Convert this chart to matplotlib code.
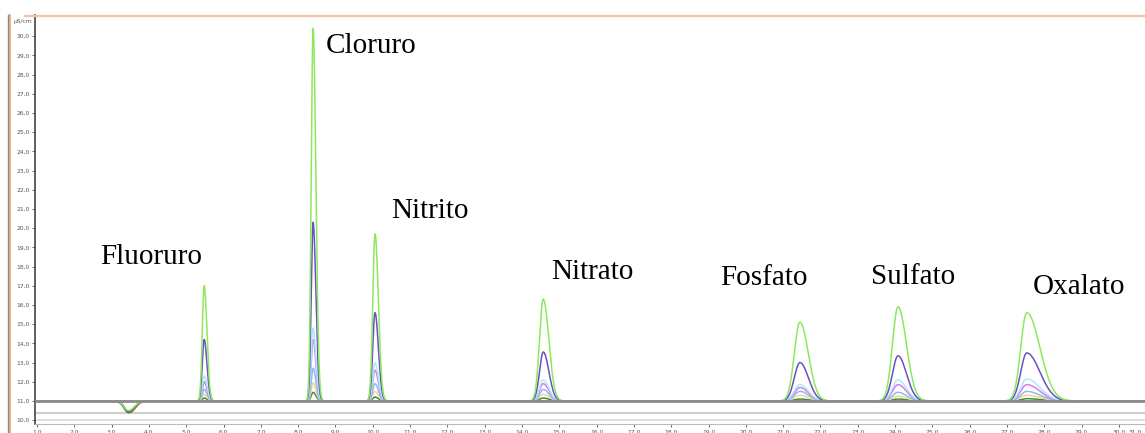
import numpy as np
import matplotlib
matplotlib.use('agg')
import matplotlib.pyplot as plt
from matplotlib.lines import Line2D
from matplotlib.ticker import FuncFormatter

# anions: retention time (min), peak sigma (min), tailing factor
anions = ['Fluoruro', 'Cloruro', 'Nitrito', 'Nitrato', 'Fosfato', 'Sulfato', 'Oxalato']
ret_time = [5.48, 8.40, 10.06, 14.57, 21.45, 24.08, 27.53]
sigma = [0.05, 0.05, 0.06, 0.10, 0.15, 0.15, 0.16]
tail = [1.5, 1.5, 1.5, 1.5, 1.5, 1.5, 2.2]

baseline = 11.0
# apex conductivity (uS/cm) of each standard, one row per standard
std_colors = ['#8ee85c', '#6a50c4', '#a8ecf8', '#d87ae8', '#8cbcf2', '#f2d888', '#3f8c3f']
apex = [
    [17.0, 30.4, 19.7, 16.3, 15.1, 15.9, 15.6],
    [14.2, 20.3, 15.6, 13.55, 13.0, 13.35, 13.5],
    [12.3, 14.8, 13.0, 12.1, 11.85, 12.1, 12.15],
    [12.0, 14.2, 12.6, 11.9, 11.7, 11.85, 11.85],
    [11.6, 12.7, 11.9, 11.6, 11.5, 11.45, 11.5],
    [11.35, 11.95, 11.5, 11.35, 11.3, 11.25, 11.3],
    [11.15, 11.45, 11.2, 11.15, 11.1, 11.1, 11.12],
]
# water dip near 3.4 min
dip_time = 3.45
dip_depth = [0.5, 0.55, 0.0, 0.0, 0.0, 0.0, 0.6]
dip_sigma = 0.12

label_x = [2.69, 8.74, 10.49, 14.78, 19.31, 23.36, 27.70]
label_y = [18.5, 29.5, 20.9, 17.7, 17.4, 17.45, 16.95]


def peak(t, t0, s, tf):
    # gaussian with a widened trailing side
    w = np.where(t < t0, s, s * tf)
    return np.exp(-0.5 * ((t - t0) / w) ** 2)


t = np.linspace(0.9, 31.0, 12000)

fig = plt.figure(figsize=(11.45, 4.33), dpi=100)
ax = fig.add_axes([35 / 1145, 9 / 433, 1110 / 1145, 409 / 433])

for i, c in enumerate(std_colors):
    y = np.full_like(t, baseline)
    for j in range(len(anions)):
        y += (apex[i][j] - baseline) * peak(t, ret_time[j], sigma[j], tail[j])
    y -= dip_depth[i] * peak(t, dip_time, dip_sigma, 1.3)
    ax.plot(t, y, color=c, lw=1.1, zorder=3 + (len(std_colors) - i) * 0.01)

# brownish trace only visible in the dip
ax.plot(t, baseline - 0.62 * peak(t, dip_time + 0.03, dip_sigma, 1.3),
        color='#d07a48', lw=1.0, zorder=2.9)

ax.axhline(baseline, color='#8a8a8a', lw=2.0, zorder=5)
ax.axhline(10.38, color='#cfcfcf', lw=1.5, zorder=1)
ax.axhline(10.02, color='#dcdcdc', lw=1.2, zorder=1)

for name, lx, ly in zip(anions, label_x, label_y):
    ax.text(lx, ly, name, family='Liberation Serif', fontsize=21,
            ha='left', va='center', color='black')

ax.set_xlim(0.946, 30.7)
ax.set_ylim(9.8, 31.1)
fmt = FuncFormatter(lambda v, p: ('%.1f' % v).replace('.', ','))
ax.xaxis.set_major_formatter(fmt)
ax.yaxis.set_major_formatter(fmt)
ax.set_xticks(np.arange(1.0, 30.5, 1.0))
ax.set_yticks(np.arange(10.0, 30.5, 1.0))
ax.tick_params(axis='both', labelsize=4.3, labelcolor='#555555', color='#555555',
               length=2.5, width=0.6, pad=1.5)
for s in ['top', 'right']:
    ax.spines[s].set_visible(False)
ax.spines['left'].set_color('#444444')
ax.spines['left'].set_linewidth(1.2)
ax.spines['bottom'].set_color('#bbbbbb')
ax.spines['bottom'].set_linewidth(0.8)
# last tick label sits at the right edge
ax.text(0.997, -0.0136, '31,0', transform=ax.transAxes, fontsize=4.3, color='#555555',
        ha='right', va='top')

fig.text(13 / 1145, 1 - 21 / 433, 'µS/cm', fontsize=4.3, color='#555555',
         ha='left', va='center')

# window frame lines
fig.add_artist(Line2D([25 / 1145, 1.0], [1 - 15.5 / 433] * 2, color='#f6c2a4', lw=1.6))
fig.add_artist(Line2D([9.5 / 1145] * 2, [0, 1 - 15 / 433], color='#f6b08c', lw=1.4))
fig.add_artist(Line2D([7.5 / 1145] * 2, [0, 1 - 15 / 433], color='#8a8a78', lw=1.0))

fig.savefig('out.png', dpi=100)
